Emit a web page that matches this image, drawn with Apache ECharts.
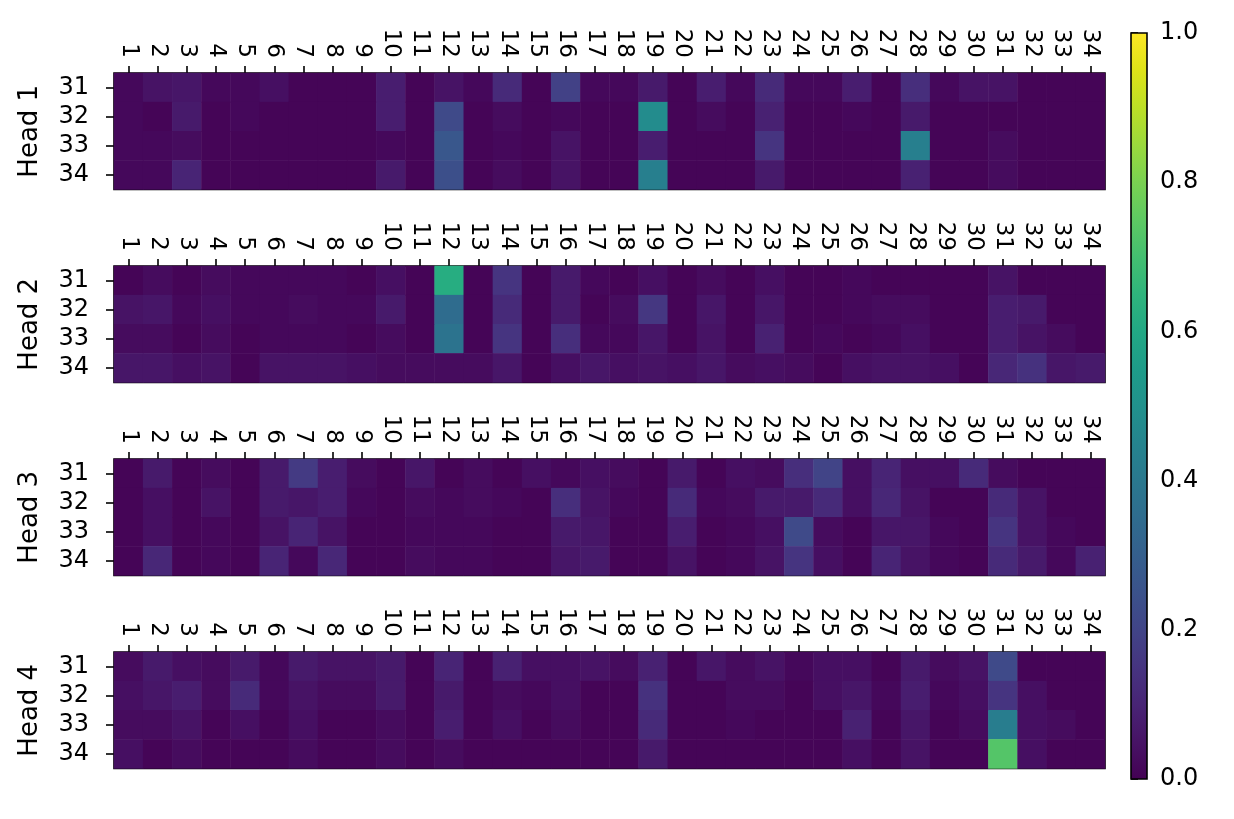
<!DOCTYPE html>
<html>
<head>
<meta charset="utf-8">
<title>Attention heads</title>
<script src="https://cdn.jsdelivr.net/npm/echarts@6/dist/echarts.min.js"></script>
<style>
  html, body { margin: 0; padding: 0; background: #fff; }
  #chart { width: 1234px; height: 819px; }
</style>
</head>
<body>
<div id="chart"></div>
<script>
// columns 1..34, rows 31..34
const cols = ['1','2','3','4','5','6','7','8','9','10','11','12','13','14','15','16','17',
  '18','19','20','21','22','23','24','25','26','27','28','29','30','31','32','33','34'];
const rows = ['31', '32', '33', '34'];
const headNames = ['Head 1', 'Head 2', 'Head 3', 'Head 4'];

const head1 = [
  [0.02,0.05,0.06,0.02,0.02,0.04,0.01,0.01,0.01,0.08,0.01,0.05,0.02,0.12,0.01,0.19,0.02,0.02,0.07,0.01,0.08,0.02,0.12,0.02,0.02,0.08,0.01,0.13,0.02,0.05,0.05,0.01,0.01,0.01],
  [0.02,0.01,0.07,0.01,0.02,0.01,0.01,0.01,0.01,0.08,0.01,0.22,0.01,0.03,0.01,0.02,0.01,0.01,0.48,0.01,0.03,0.01,0.09,0.01,0.01,0.02,0.01,0.07,0.01,0.01,0.01,0.01,0.01,0.01],
  [0.02,0.02,0.03,0.01,0.01,0.01,0.01,0.01,0.01,0.02,0.01,0.27,0.01,0.02,0.01,0.05,0.01,0.01,0.08,0.01,0.01,0.01,0.15,0.01,0.01,0.01,0.01,0.43,0.01,0.01,0.03,0.01,0.01,0.01],
  [0.02,0.02,0.10,0.01,0.01,0.01,0.01,0.01,0.01,0.07,0.01,0.24,0.01,0.03,0.01,0.05,0.01,0.01,0.43,0.01,0.01,0.01,0.07,0.01,0.01,0.01,0.01,0.09,0.01,0.01,0.03,0.01,0.01,0.01]
];
const head2 = [
  [0.01,0.03,0.01,0.03,0.02,0.02,0.02,0.02,0.01,0.04,0.01,0.62,0.01,0.15,0.01,0.07,0.02,0.01,0.04,0.01,0.03,0.01,0.04,0.01,0.01,0.02,0.01,0.01,0.01,0.01,0.05,0.01,0.01,0.01],
  [0.05,0.06,0.02,0.04,0.02,0.02,0.03,0.02,0.02,0.07,0.01,0.35,0.01,0.12,0.01,0.07,0.01,0.03,0.16,0.01,0.06,0.01,0.06,0.01,0.01,0.02,0.03,0.03,0.01,0.01,0.08,0.07,0.01,0.01],
  [0.03,0.03,0.01,0.03,0.01,0.02,0.02,0.02,0.01,0.03,0.01,0.38,0.01,0.15,0.01,0.13,0.02,0.02,0.06,0.01,0.05,0.01,0.09,0.01,0.02,0.01,0.02,0.04,0.01,0.01,0.08,0.05,0.03,0.01],
  [0.06,0.06,0.04,0.05,0.01,0.05,0.05,0.05,0.04,0.03,0.03,0.03,0.03,0.06,0.01,0.04,0.06,0.04,0.05,0.04,0.06,0.03,0.04,0.03,0.01,0.04,0.05,0.05,0.04,0.01,0.11,0.14,0.06,0.07]
];
const head3 = [
  [0.01,0.07,0.01,0.03,0.01,0.07,0.17,0.08,0.03,0.01,0.06,0.01,0.03,0.01,0.04,0.02,0.04,0.03,0.01,0.07,0.01,0.04,0.03,0.13,0.20,0.04,0.10,0.04,0.04,0.12,0.03,0.01,0.01,0.01],
  [0.01,0.04,0.01,0.05,0.01,0.07,0.06,0.08,0.02,0.01,0.03,0.02,0.03,0.02,0.01,0.13,0.05,0.02,0.01,0.12,0.02,0.03,0.07,0.07,0.12,0.04,0.11,0.05,0.01,0.01,0.12,0.05,0.01,0.01],
  [0.01,0.04,0.01,0.02,0.01,0.05,0.10,0.05,0.01,0.01,0.02,0.02,0.02,0.01,0.01,0.07,0.06,0.01,0.01,0.08,0.01,0.02,0.04,0.22,0.03,0.01,0.06,0.06,0.02,0.01,0.15,0.05,0.02,0.01],
  [0.01,0.11,0.01,0.02,0.01,0.10,0.02,0.11,0.01,0.01,0.03,0.02,0.02,0.01,0.01,0.06,0.07,0.01,0.01,0.05,0.01,0.02,0.05,0.15,0.04,0.01,0.10,0.05,0.02,0.01,0.12,0.07,0.02,0.09]
];
const head4 = [
  [0.03,0.07,0.04,0.03,0.07,0.02,0.07,0.05,0.05,0.07,0.01,0.10,0.01,0.09,0.04,0.04,0.05,0.03,0.09,0.01,0.06,0.03,0.05,0.02,0.04,0.04,0.01,0.07,0.03,0.05,0.22,0.01,0.01,0.01],
  [0.04,0.06,0.08,0.03,0.12,0.02,0.05,0.03,0.03,0.07,0.01,0.07,0.01,0.03,0.02,0.04,0.01,0.01,0.14,0.01,0.01,0.03,0.03,0.01,0.04,0.06,0.02,0.08,0.02,0.04,0.15,0.04,0.01,0.01],
  [0.03,0.03,0.05,0.01,0.04,0.01,0.04,0.01,0.01,0.03,0.01,0.08,0.01,0.04,0.01,0.03,0.01,0.01,0.12,0.01,0.01,0.02,0.01,0.01,0.01,0.09,0.01,0.06,0.01,0.03,0.42,0.04,0.03,0.01],
  [0.04,0.01,0.03,0.01,0.01,0.01,0.03,0.01,0.01,0.03,0.01,0.03,0.01,0.01,0.01,0.01,0.01,0.01,0.07,0.01,0.01,0.01,0.01,0.01,0.01,0.04,0.01,0.05,0.01,0.01,0.73,0.04,0.01,0.01]
];
const heads = [head1, head2, head3, head4];

// viridis
const viridis = ['#440154','#471365','#482475','#463480','#414487','#3b528b','#355f8d',
  '#2f6c8e','#2a788e','#25848e','#21918c','#1e9c89','#22a884','#2fb47c','#44bf70',
  '#5ec962','#7ad151','#9bd93c','#bddf26','#dfe318','#fde725'];

const FONT = 'DejaVu Sans';
const gridLeft = 114, gridWidth = 991, gridH = 116.5;
const gridTops = [73, 266, 459, 652];
const cbar = { left: 1131, top: 33, width: 16, height: 746 };
const tickStyle = { color: '#000', width: 1.6 };

let chartDom = document.getElementById('chart');
let myChart = echarts.init(chartDom);
let option;

let grids = [], xAxes = [], yAxes = [], series = [];
heads.forEach((h, i) => {
  grids.push({
    left: gridLeft, top: gridTops[i], width: gridWidth, height: gridH,
    show: true, borderColor: '#000', borderWidth: 1.6, backgroundColor: 'transparent'
  });
  xAxes.push({
    type: 'category', gridIndex: i, data: cols, position: 'top',
    axisLine: { show: false },
    axisTick: { show: true, alignWithLabel: true, interval: 0, length: 7, lineStyle: tickStyle },
    axisLabel: { rotate: 90, interval: 0, margin: 15, color: '#000', fontFamily: FONT, fontSize: 23 },
    splitLine: { show: false }
  });
  yAxes.push({
    type: 'category', gridIndex: i, data: rows, inverse: true,
    name: headNames[i], nameLocation: 'middle', nameGap: 71, nameRotate: 90,
    nameTextStyle: { color: '#000', fontFamily: FONT, fontSize: 26 },
    axisLine: { show: false },
    axisTick: { show: true, alignWithLabel: true, interval: 0, length: 8, lineStyle: tickStyle },
    axisLabel: { interval: 0, margin: 25, color: '#000', fontFamily: FONT, fontSize: 24 },
    splitLine: { show: false }
  });
  let data = [];
  h.forEach((row, r) => row.forEach((v, c) => data.push([c, r, v])));
  series.push({
    type: 'heatmap', xAxisIndex: i, yAxisIndex: i, data: data,
    itemStyle: { borderWidth: 0 },
    emphasis: { disabled: true }
  });
});

// colorbar axis
grids.push({
  left: cbar.left, top: cbar.top, width: cbar.width, height: cbar.height,
  show: false
});
xAxes.push({ type: 'value', gridIndex: 4, show: false });
yAxes.push({
  type: 'value', gridIndex: 4, min: 0, max: 1, interval: 0.2, position: 'right',
  axisLine: { show: false },
  axisTick: { show: true, length: 7, lineStyle: tickStyle },
  axisLabel: { margin: 13, color: '#000', fontFamily: FONT, fontSize: 24,
    formatter: v => v.toFixed(1) },
  splitLine: { show: false }
});

option = {
  animation: false,
  backgroundColor: '#fff',
  grid: grids,
  xAxis: xAxes,
  yAxis: yAxes,
  visualMap: {
    show: false, min: 0, max: 1, seriesIndex: [0, 1, 2, 3],
    inRange: { color: viridis }
  },
  graphic: [{
    type: 'rect', z: 10,
    shape: { x: cbar.left, y: cbar.top, width: cbar.width, height: cbar.height },
    style: {
      fill: new echarts.graphic.LinearGradient(0, 1, 0, 0,
        viridis.map((c, k) => ({ offset: k / (viridis.length - 1), color: c }))),
      stroke: '#000', lineWidth: 1.6
    }
  }],
  series: series
};

option && myChart.setOption(option);
</script>
</body>
</html>
